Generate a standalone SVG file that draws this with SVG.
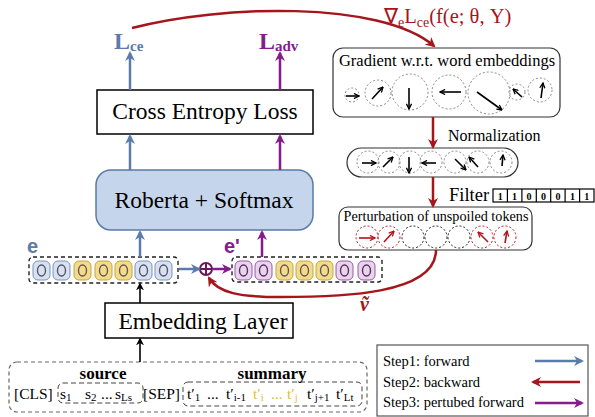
<svg xmlns="http://www.w3.org/2000/svg" width="595" height="417" viewBox="0 0 595 417">
<style>
.serif{font-family:"Liberation Serif","Times New Roman",serif;fill:#000}
.box{fill:#fff;stroke:#000;stroke-width:1.5}
.blue{stroke:#5b7cab;stroke-width:2.5;fill:none}
.red{stroke:#a5151b;stroke-width:2.5;fill:none}
.purple{stroke:#861b8c;stroke-width:2.5;fill:none}
.blk{stroke:#000;stroke-width:1.6;fill:none}
.dc{fill:none;stroke:#888;stroke-width:1;stroke-dasharray:2 2}
.dcr{fill:none;stroke:#c0161c;stroke-width:1;stroke-dasharray:2 2}
.dck{fill:none;stroke:#222;stroke-width:1;stroke-dasharray:2 2}
.va{stroke:#000;stroke-width:1.6;fill:none}
.var{stroke:#b3141a;stroke-width:1.6;fill:none}
.tb{fill:#d7e1f1;stroke:#7b93b9;stroke-width:1}
.ty{fill:#f2dc8c;stroke:#c8a441;stroke-width:1}
.tp{fill:#ead3ee;stroke:#985aa5;stroke-width:1}
.ring{fill:none;stroke-width:1.4}
.dbox{fill:none;stroke:#222;stroke-width:1.4;stroke-dasharray:4 3}
</style>
<defs>
<marker id="mb" viewBox="0 0 10 10" refX="8" refY="5" markerWidth="4" markerHeight="4" orient="auto"><path d="M0,0 L10,5 L0,10 L3,5 z" fill="#5b7cab"/></marker>
<marker id="mr" viewBox="0 0 10 10" refX="8" refY="5" markerWidth="4" markerHeight="4" orient="auto"><path d="M0,0 L10,5 L0,10 L3,5 z" fill="#a5151b"/></marker>
<marker id="mp" viewBox="0 0 10 10" refX="8" refY="5" markerWidth="4" markerHeight="4" orient="auto"><path d="M0,0 L10,5 L0,10 L3,5 z" fill="#861b8c"/></marker>
<marker id="mk" viewBox="0 0 10 10" refX="8" refY="5" markerWidth="5" markerHeight="5" orient="auto"><path d="M0,0 L10,5 L0,10 L3,5 z" fill="#000"/></marker>
<marker id="ma" viewBox="0 0 10 10" refX="9" refY="5" markerWidth="4" markerHeight="4" orient="auto"><path d="M1,1 L9,5 L1,9" fill="none" stroke="#000" stroke-width="2"/></marker>
<marker id="mar" viewBox="0 0 10 10" refX="9" refY="5" markerWidth="4" markerHeight="4" orient="auto"><path d="M1,1 L9,5 L1,9" fill="none" stroke="#b3141a" stroke-width="2"/></marker>
</defs>

<g id="lce">
<text class="serif" x="114" y="49" font-size="24" font-weight="bold" style="fill:#5b7cab">L<tspan font-size="15" dy="2">ce</tspan></text>
</g>
<g id="ladv">
<text class="serif" x="259" y="49" font-size="24" font-weight="bold" style="fill:#861b8c">L<tspan font-size="15" dy="2">adv</tspan></text>
</g>

<g id="celoss">
<rect class="box" x="97" y="90" width="216" height="44"/>
<text class="serif" x="205" y="119" font-size="23.5" text-anchor="middle">Cross Entropy Loss</text>
</g>

<g id="roberta">
<rect x="96" y="170" width="217" height="60" rx="15" fill="#c5d6ec" stroke="#5a7aa6" stroke-width="1.5"/>
<text class="serif" x="204" y="208" font-size="23.5" text-anchor="middle">Roberta + Softmax</text>
</g>

<g id="emb_e">
<text x="27" y="253" font-family="Liberation Sans,Arial,sans-serif" font-size="20" font-weight="bold" fill="#5b7cab">e</text>
<rect class="dbox" x="29" y="257" width="149" height="26" rx="4"/>
<rect class="tb" x="33" y="261" width="17" height="19" rx="5"/><ellipse class="ring" cx="41.5" cy="270.5" rx="4" ry="5.5" stroke="#556"/>
<rect class="tb" x="53" y="261" width="17" height="19" rx="5"/><ellipse class="ring" cx="61.5" cy="270.5" rx="4" ry="5.5" stroke="#556"/>
<rect class="ty" x="74" y="261" width="17" height="19" rx="5"/><ellipse class="ring" cx="82.5" cy="270.5" rx="4" ry="5.5" stroke="#655"/>
<rect class="ty" x="95" y="261" width="17" height="19" rx="5"/><ellipse class="ring" cx="103.5" cy="270.5" rx="4" ry="5.5" stroke="#655"/>
<rect class="ty" x="115" y="261" width="17" height="19" rx="5"/><ellipse class="ring" cx="123.5" cy="270.5" rx="4" ry="5.5" stroke="#655"/>
<rect class="tb" x="135" y="261" width="17" height="19" rx="5"/><ellipse class="ring" cx="143.5" cy="270.5" rx="4" ry="5.5" stroke="#556"/>
<rect class="tb" x="155" y="261" width="17" height="19" rx="5"/><ellipse class="ring" cx="163.5" cy="270.5" rx="4" ry="5.5" stroke="#556"/>
</g>

<g id="plus">
<circle cx="206" cy="269" r="6" fill="none" stroke="#6a1757" stroke-width="2"/>
<path d="M200,269 H212 M206,263 V275" stroke="#6a1757" stroke-width="2"/>
</g>

<g id="emb_ep">
<text x="224" y="253" font-family="Liberation Sans,Arial,sans-serif" font-size="20" font-weight="bold" fill="#861b8c">e'</text>
<rect class="dbox" x="232" y="257" width="150" height="25" rx="4"/>
<rect class="tp" x="235" y="261" width="17" height="19" rx="5"/><ellipse class="ring" cx="243.5" cy="270.5" rx="4" ry="5.5" stroke="#535"/>
<rect class="tp" x="255" y="261" width="17" height="19" rx="5"/><ellipse class="ring" cx="263.5" cy="270.5" rx="4" ry="5.5" stroke="#535"/>
<rect class="ty" x="276" y="261" width="17" height="19" rx="5"/><ellipse class="ring" cx="284.5" cy="270.5" rx="4" ry="5.5" stroke="#655"/>
<rect class="ty" x="296" y="261" width="17" height="19" rx="5"/><ellipse class="ring" cx="304.5" cy="270.5" rx="4" ry="5.5" stroke="#655"/>
<rect class="ty" x="316" y="261" width="17" height="19" rx="5"/><ellipse class="ring" cx="324.5" cy="270.5" rx="4" ry="5.5" stroke="#655"/>
<rect class="tp" x="336" y="261" width="17" height="19" rx="5"/><ellipse class="ring" cx="344.5" cy="270.5" rx="4" ry="5.5" stroke="#535"/>
<rect class="tp" x="358" y="261" width="17" height="19" rx="5"/><ellipse class="ring" cx="366.5" cy="270.5" rx="4" ry="5.5" stroke="#535"/>
</g>

<g id="embedding">
<rect class="box" x="105" y="303" width="188" height="35"/>
<text class="serif" x="203" y="329" font-size="23.5" text-anchor="middle">Embedding Layer</text>
</g>

<g id="input">
<rect x="9" y="362" width="358" height="50" rx="8" fill="none" stroke="#666" stroke-width="1.2" stroke-dasharray="4 3"/>
<rect x="58" y="383" width="85" height="20" rx="5" fill="none" stroke="#444" stroke-width="1" stroke-dasharray="5 3"/>
<rect x="183" y="382" width="179" height="24" rx="5" fill="none" stroke="#444" stroke-width="1" stroke-dasharray="5 3"/>
<text class="serif" x="103" y="379" font-size="17" font-weight="bold" text-anchor="middle">source</text>
<text class="serif" x="272" y="379" font-size="17" font-weight="bold" text-anchor="middle">summary</text>
<g class="serif" font-size="15.5">
<text x="14" y="399">[CLS]</text>
<text x="60" y="399">s<tspan font-size="11" dy="2">1</tspan></text>
<text x="85" y="399">s<tspan font-size="11" dy="2">2</tspan></text>
<text x="101" y="399">...</text>
<text x="115" y="399">s<tspan font-size="11" dy="2">Ls</tspan></text>
<text x="143" y="399">[SEP]</text>
<text x="187" y="399">t′<tspan font-size="11" dy="2">1</tspan></text>
<text x="207" y="399">...</text>
<text x="226" y="399">t′<tspan font-size="11" dy="2">i-1</tspan></text>
<text x="253" y="399" style="fill:#e7bd2e">t′<tspan font-size="11" dy="2">i</tspan></text>
<text x="271" y="399" style="fill:#e7bd2e">...</text>
<text x="287" y="399" style="fill:#e7bd2e">t′<tspan font-size="11" dy="2">j</tspan></text>
<text x="307" y="399">t′<tspan font-size="11" dy="2">j+1</tspan></text>
<text x="336" y="399">t′<tspan font-size="11" dy="2">Lt</tspan></text>
</g>
</g>

<g id="gradlabel">
<text class="serif" x="384" y="23" font-size="20.5" style="fill:#a5151b">∇<tspan font-size="14" dy="4">e</tspan><tspan dy="-4">L</tspan><tspan font-size="14" dy="4">ce</tspan><tspan dy="-4">(f(e; θ, Y)</tspan></text>
</g>

<g id="gradient">
<rect x="333" y="48" width="227" height="69" rx="10" fill="#fff" stroke="#333" stroke-width="1.2"/>
<text class="serif" x="447" y="66" font-size="16.5" text-anchor="middle">Gradient w.r.t. word embeddings</text>
<circle class="dc" cx="352" cy="95" r="7"/>
<circle class="dc" cx="378" cy="93" r="13"/>
<circle class="dc" cx="410" cy="92" r="18"/>
<circle class="dc" cx="449" cy="92" r="17"/>
<circle class="dc" cx="489" cy="93" r="21"/>
<circle class="dc" cx="517" cy="92" r="8"/>
<circle class="dc" cx="540" cy="90" r="12"/>
<path class="va" marker-end="url(#ma)" d="M346,96 H359"/>
<path class="va" marker-end="url(#ma)" d="M372,99 L383,87"/>
<path class="va" marker-end="url(#ma)" d="M409,88 V109"/>
<path class="va" marker-end="url(#ma)" d="M461,92 H440"/>
<path class="va" marker-end="url(#ma)" d="M477,92 L502,110"/>
<path class="va" marker-end="url(#ma)" d="M522,97 L513,89"/>
<path class="va" marker-end="url(#ma)" d="M541,98 L543,83"/>
</g>

<g id="normlabel">
<text class="serif" x="448" y="141" font-size="16">Normalization</text>
</g>

<g id="normalized">
<rect x="347" y="148" width="171" height="29" rx="14.5" fill="#fff" stroke="#333" stroke-width="1.2"/>
<circle class="dc" cx="368" cy="162" r="11"/>
<circle class="dc" cx="389" cy="162" r="11"/>
<circle class="dc" cx="410" cy="162" r="11"/>
<circle class="dc" cx="431" cy="162" r="11"/>
<circle class="dc" cx="455" cy="162" r="11"/>
<circle class="dc" cx="478" cy="162" r="11"/>
<circle class="dc" cx="501" cy="162" r="11"/>
<path class="va" marker-end="url(#ma)" d="M362,163 H376"/>
<path class="va" marker-end="url(#ma)" d="M383,167 L393,157"/>
<path class="va" marker-end="url(#ma)" d="M409,157 V173"/>
<path class="va" marker-end="url(#ma)" d="M436,163 H422"/>
<path class="va" marker-end="url(#ma)" d="M455,159 L466,170"/>
<path class="va" marker-end="url(#ma)" d="M478,167 L469,157"/>
<path class="va" marker-end="url(#ma)" d="M502,166 L503,155"/>
</g>

<g id="filter">
<text class="serif" x="449" y="201" font-size="18.5">Filter</text>
<g fill="none" stroke="#000" stroke-width="1.2">
<rect x="493" y="189" width="101" height="13"/>
<path d="M507.4,189 V202 M521.9,189 V202 M536.3,189 V202 M550.7,189 V202 M565.1,189 V202 M579.6,189 V202"/>
</g>
<g class="serif" font-size="10" font-weight="bold" text-anchor="middle">
<text x="500.2" y="199.5">1</text><text x="514.6" y="199.5">1</text><text x="529.1" y="199.5">0</text><text x="543.5" y="199.5">0</text><text x="557.9" y="199.5">0</text><text x="572.4" y="199.5">1</text><text x="586.8" y="199.5">1</text>
</g>
</g>

<g id="perturb">
<rect x="339" y="207" width="193" height="43" rx="9" fill="#fff" stroke="#333" stroke-width="1.2"/>
<text class="serif" x="436" y="221" font-size="14.2" text-anchor="middle">Perturbation of unspoiled tokens</text>
<circle class="dcr" cx="367" cy="237" r="11"/>
<circle class="dcr" cx="389" cy="237" r="11"/>
<circle class="dck" cx="413" cy="237" r="11"/>
<circle class="dck" cx="436" cy="237" r="11"/>
<circle class="dck" cx="459" cy="237" r="11"/>
<circle class="dcr" cx="482" cy="237" r="11"/>
<circle class="dcr" cx="505" cy="237" r="11"/>
<path class="var" marker-end="url(#mar)" d="M359,238 H375"/>
<path class="var" marker-end="url(#mar)" d="M384,242 L394,231"/>
<path class="var" marker-end="url(#mar)" d="M488,242 L478,232"/>
<path class="var" marker-end="url(#mar)" d="M505,243 L507,231"/>
</g>

<g id="vtilde">
<text class="serif" x="360" y="311" font-size="20" font-weight="bold" font-style="italic" style="fill:#a5151b">ṽ</text>
</g>

<g id="legend">
<rect x="377" y="345" width="211" height="71" fill="#fff" stroke="#555" stroke-width="1.2"/>
<text class="serif" x="383" y="366" font-size="14.5">Step1: forward</text>
<text class="serif" x="383" y="387" font-size="14.5">Step2: backward</text>
<text class="serif" x="383" y="407" font-size="14.5">Step3: pertubed forward</text>
<path class="blue" marker-end="url(#mb)" d="M535,361 H582"/>
<path class="red" marker-end="url(#mr)" d="M580,382 H533"/>
<path class="purple" marker-end="url(#mp)" d="M535,403 H582"/>
</g>

<g id="connectors">
<path class="blue" marker-end="url(#mb)" d="M130,90 V53"/>
<path class="purple" marker-end="url(#mp)" d="M280,90 V53"/>
<path class="blue" marker-end="url(#mb)" d="M130,170 V136"/>
<path class="purple" marker-end="url(#mp)" d="M280,170 V136"/>
<path class="blue" marker-end="url(#mb)" d="M140,257 V232"/>
<path class="purple" marker-end="url(#mp)" d="M262,257 V232"/>
<path class="blk" marker-end="url(#mk)" d="M140,303 V284"/>
<path class="blk" marker-end="url(#mk)" d="M140,362 V339"/>
<path class="blue" marker-end="url(#mb)" d="M179,269 H199"/>
<path class="purple" marker-end="url(#mp)" d="M212,269 H230"/>
<path class="red" marker-end="url(#mr)" d="M132,28 C220,5 380,0 434,46"/>
<path class="red" marker-end="url(#mr)" d="M433,117 V147"/>
<path class="red" marker-end="url(#mr)" d="M433,177 V206"/>
<path class="red" marker-end="url(#mr)" d="M436,250 C436,295 340,297 280,297 C240,297 218,293 209,278"/>
</g>
</svg>
